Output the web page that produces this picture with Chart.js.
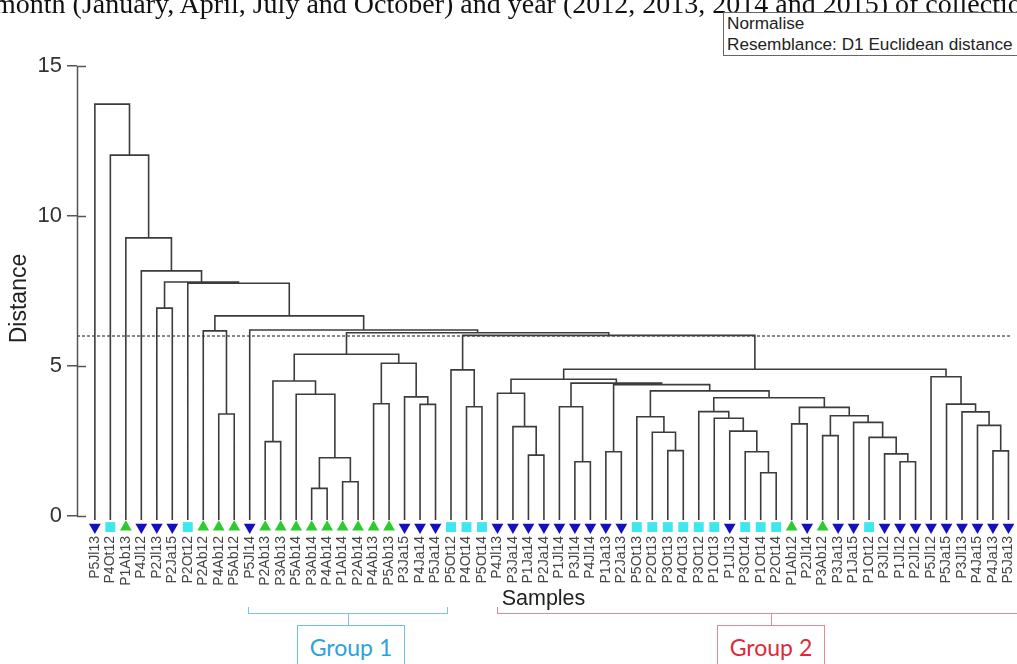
<!DOCTYPE html>
<html>
<head>
<meta charset="utf-8">
<script src="https://cdn.jsdelivr.net/npm/chart.js@4.4.1/dist/chart.umd.min.js"></script>
<style>
  html, body { margin:0; padding:0; background:#fff; }
  #wrap { position:relative; width:1017px; height:664px; overflow:hidden; background:#fff; }
  #cbox { position:absolute; left:0; top:0; width:1017px; height:664px; }
  .cap { position:absolute; left:-6px; top:-10px; font-family:"Liberation Serif","Times New Roman",serif; font-size:28px; line-height:28px; white-space:nowrap; color:#111; }
  .norm { position:absolute; left:723px; top:12px; width:310px; height:44px; border:1px solid #666; background:#fff; font-family:"Liberation Sans",Arial,sans-serif; font-size:17.2px; line-height:21px; color:#222; padding-left:3px; box-sizing:border-box; }
  .br { position:absolute; box-sizing:border-box; }
  .gbox { position:absolute; box-sizing:border-box; font-family:Lato,"Open Sans",sans-serif; font-size:23px; text-align:center; line-height:42px; background:#fff; }
</style>
</head>
<body>
<div id="wrap">
  <div id="cbox"><canvas id="c"></canvas></div>
  <div class="cap">month (January, April, July and October) and year (2012, 2013, 2014 and 2015) of collectio</div>
  <div class="norm"><div>Normalise</div><div>Resemblance: D1 Euclidean distance</div></div>

  <div class="br" style="left:248px;top:607px;width:200px;height:7px;border-left:1.5px solid #7cc4e4;border-right:1.5px solid #7cc4e4;border-bottom:1.5px solid #7cc4e4;"></div>
  <div class="br" style="left:348px;top:613px;width:2px;height:12px;border-left:1.5px solid #7cc4e4;"></div>
  <div class="gbox" style="left:297px;top:625px;width:108px;height:50px;border:1.5px solid #6fbfe3;color:#2ba3d8;">Group 1</div>

  <div class="br" style="left:497px;top:607px;width:540px;height:7px;border-left:1.5px solid #e48a90;border-bottom:1.5px solid #e48a90;"></div>
  <div class="br" style="left:771px;top:613px;width:2px;height:12px;border-left:1.5px solid #e48a90;"></div>
  <div class="gbox" style="left:717px;top:625px;width:108px;height:50px;border:1.5px solid #e48a90;color:#e0283a;">Group 2</div>
</div>
<script>
// ---- Data ----
const leafLabels = ['P5Jl13','P4Ot12','P1Ab13','P4Jl12','P2Jl13','P2Ja15','P2Ot12','P2Ab12','P4Ab12','P5Ab12',
  'P5Jl14','P2Ab13','P3Ab13','P5Ab14','P3Ab14','P4Ab14','P1Ab14','P2Ab14','P4Ab13','P5Ab13',
  'P3Ja15','P4Ja14','P5Ja14','P5Ot12','P4Ot14','P5Ot14','P4Jl13','P3Ja14','P1Ja14','P2Ja14',
  'P1Jl14','P3Jl14','P4Jl14','P1Ja13','P2Ja13','P5Ot13','P2Ot13','P3Ot13','P4Ot13','P3Ot12',
  'P1Ot13','P1Jl13','P3Ot14','P1Ot14','P2Ot14','P1Ab12','P2Jl14','P3Ab12','P3Ja13','P1Ja15',
  'P1Ot12','P3Jl12','P1Jl12','P2Jl12','P5Jl12','P5Ja15','P3Jl13','P4Ja15','P4Ja13','P5Ja13'];

// merge table (hclust style): negative = leaf index (1-based), positive = earlier merge row (1-based), then distance
const merges = [
  [-15,-16,0.92],[-17,-18,1.14],[1,2,1.94],[-14,3,4.06],[-12,-13,2.48],[5,4,4.50],
  [-19,-20,3.74],[-22,-23,3.72],[-21,8,3.97],[7,9,5.09],[6,10,5.39],
  [-25,-26,3.64],[-24,12,4.87],
  [-29,-30,2.03],[-28,14,2.98],[-27,15,4.09],
  [-32,-33,1.81],[-31,17,3.64],[-34,-35,2.14],
  [-38,-39,2.18],[-37,20,2.79],[-36,21,3.31],
  [-44,-45,1.44],[-43,23,2.14],[-42,24,2.83],[-41,25,3.26],[-40,26,3.48],
  [-46,-47,3.07],[-48,-49,2.68],[-53,-54,1.81],[-52,30,2.07],[-51,31,2.62],[-50,32,3.12],
  [29,33,3.34],[28,34,3.62],[27,35,3.94],[22,36,4.17],[19,37,4.38],[18,38,4.43],[16,39,4.56],
  [-59,-60,2.17],[-58,41,3.02],[-57,42,3.47],[-56,43,3.73],[-55,44,4.64],
  [40,45,4.89],[13,46,6.02],[11,47,6.11],[-11,48,6.20],
  [-9,-10,3.40],[-8,50,6.17],[51,49,6.67],[-7,52,7.76],[-5,-6,6.93],[54,53,7.80],
  [-4,55,8.17],[-3,56,9.27],[-2,57,12.03],[-1,58,13.73]
];
const cutDistance = 6.0;
const yTicks = [0, 5, 10, 15];

// ---- derived ----
const LEAF_BASE = -0.13, MARK_Y = -0.37, YMIN = -0.5, YMAX = 15;
const nodeX = [], nodeH = [], segs = [];
function ref(r){ return r < 0 ? {x:-r, h:LEAF_BASE} : {x:nodeX[r-1], h:nodeH[r-1]}; }
merges.forEach(([a,b,h], i) => {
  const A = ref(a), B = ref(b);
  segs.push({x:A.x,y:A.h},{x:A.x,y:h},{x:B.x,y:h},{x:B.x,y:B.h},{x:B.x,y:null});
  nodeX[i] = (A.x + B.x) / 2; nodeH[i] = h;
});
const styleOf = l => l.slice(2,4) === 'Ab' ? 'up' : (l.slice(2,4) === 'Ot' ? 'sq' : 'down');
const markData = leafLabels.map((l,i) => ({x:i+1, y:MARK_Y}));
const mStyle = leafLabels.map(l => styleOf(l));
const XMIN = -0.154, XMAX = 60.1;

const axisExtras = {
  id:'axisExtras',
  afterDraw(chart){
    const {ctx, chartArea, scales:{y}} = chart;
    ctx.save(); ctx.strokeStyle = '#555'; ctx.lineWidth = 1.5;
    const L = chartArea.left + 0.5;
    ctx.beginPath(); ctx.moveTo(L, y.getPixelForValue(YMAX)); ctx.lineTo(L, y.getPixelForValue(0)); ctx.stroke();
    yTicks.forEach(v => { const p = Math.round(y.getPixelForValue(v)) + 0.5;
      ctx.beginPath(); ctx.moveTo(chartArea.left, p); ctx.lineTo(chartArea.left + 9, p); ctx.stroke(); });
    ctx.restore();
  }
};

new Chart(document.getElementById('c'), {
  type: 'line',
  data: { datasets: [
    { data: segs, borderColor:'#3c3c3c', borderWidth:1.6, pointRadius:0, spanGaps:false, tension:0, clip:false },
    { data: [{x:XMIN,y:cutDistance},{x:XMAX,y:cutDistance}], borderColor:'#111', borderWidth:1, borderDash:[3,2], pointRadius:0, clip:false },
    { type:'scatter', data: markData, clip:false, showLine:false,
      pointStyle: mStyle.map(s => s === 'sq' ? 'rect' : 'triangle'),
      rotation: mStyle.map(s => s === 'down' ? 180 : 0),
      radius: mStyle.map(s => s === 'sq' ? 7 : 6.8),
      backgroundColor: mStyle.map(s => s === 'sq' ? '#3ee6ee' : (s === 'up' ? '#2ccc2c' : '#1410c0')),
      borderWidth: 0 }
  ]},
  options: {
    responsive:true, maintainAspectRatio:false, animation:false,
    layout:{ padding:{ top:66, left:0, right:0, bottom:0 } },
    plugins:{ legend:{display:false}, tooltip:{enabled:false} },
    scales:{
      x:{ type:'linear', min:XMIN, max:XMAX,
        grid:{display:false, drawTicks:false}, border:{display:false},
        afterBuildTicks: s => { s.ticks = leafLabels.map((_,i)=>({value:i+1})); },
        afterFit: s => { s.height = 133; s.paddingLeft = 0; s.paddingRight = 0; },
        ticks:{ autoSkip:false, minRotation:90, maxRotation:90, padding:5,
          font:{family:'"Liberation Sans", Arial, sans-serif', size:14}, color:'#444',
          callback: v => leafLabels[v-1] || '' },
        title:{ display:true, text:'Samples', color:'#222', padding:{top:0,bottom:52},
          font:{family:'"Liberation Sans", Arial, sans-serif', size:21.5} }
      },
      y:{ min:YMIN, max:YMAX,
        afterBuildTicks: s => { s.ticks = yTicks.map(v=>({value:v})); },
        afterFit: s => { s.width = 77; s.paddingTop = 0; s.paddingBottom = 0; },
        grid:{ drawOnChartArea:false, tickLength:10, color:'#555', lineWidth:1.5 },
        border:{ display:false },
        ticks:{ padding:5, color:'#333', font:{family:'"Liberation Sans", Arial, sans-serif', size:22} },
        title:{ display:true, text:'Distance', color:'#222', padding:{top:6,bottom:0},
          font:{family:'"Liberation Sans", Arial, sans-serif', size:23} }
      }
    }
  },
  plugins:[axisExtras]
});
</script>
</body>
</html>
